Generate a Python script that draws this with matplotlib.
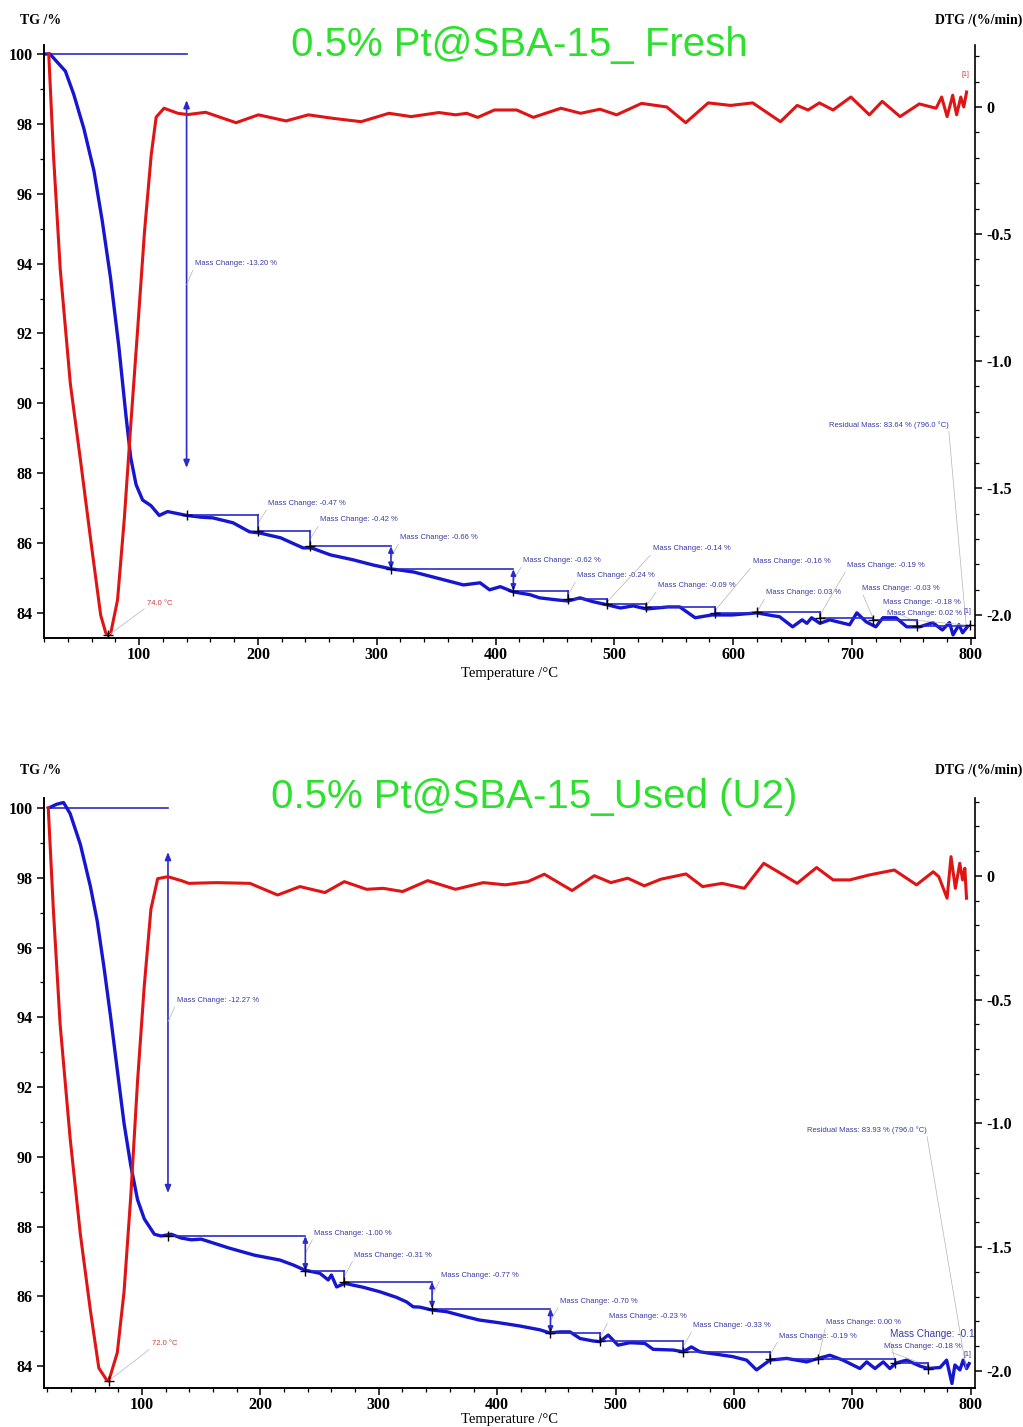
import numpy as np
import matplotlib.pyplot as plt
from matplotlib.ticker import MultipleLocator, FuncFormatter

plt.rcParams['font.family'] = ['Liberation Serif', 'DejaVu Serif']
plt.rcParams['font.weight'] = 'bold'
plt.rcParams['axes.unicode_minus'] = False

SANS = ['Liberation Sans', 'DejaVu Sans']
BLUE = '#1616d0'
RED = '#e01414'
STEP = '#2a2ac8'
NOTE = '#3a3aa6'
LEADER = '#b4b4b4'
GREEN = '#2ee02e'

# ---------------- fresh sample (top panel) ----------------
fresh_tg = [(22, 100.0), (25, 100.0), (38, 99.51), (45, 98.85), (53.6, 97.86), (62, 96.66),
            (69, 95.23), (76, 93.59), (83, 91.62), (89, 89.64), (93, 88.44), (97.5, 87.67),
            (103, 87.23), (110, 87.07), (117, 86.79), (124, 86.90), (140, 86.79), (152, 86.74),
            (162, 86.72), (179, 86.58), (193, 86.32), (201, 86.29), (219, 86.15), (238, 85.86),
            (245, 85.86), (261, 85.66), (280, 85.52), (297, 85.37), (312, 85.26), (331, 85.17),
            (347, 85.03), (373, 84.80), (387, 84.86), (395, 84.66), (404, 84.75), (415, 84.60),
            (429, 84.52), (437, 84.43), (452, 84.37), (461, 84.34), (471, 84.43), (482, 84.32),
            (494, 84.23), (505, 84.14), (516, 84.20), (527, 84.11), (545, 84.17), (555, 84.17),
            (568, 83.86), (582, 83.94), (599, 83.94), (620, 84.00), (633, 83.92), (639, 83.89),
            (650, 83.60), (658, 83.80), (662, 83.70), (666, 83.86), (673, 83.70), (681, 83.80),
            (698, 83.66), (704, 84.00), (712, 83.74), (720, 83.60), (726, 83.86), (737, 83.86),
            (746, 83.60), (757, 83.60), (768, 83.72), (776, 83.51), (782, 83.72), (785, 83.37),
            (790, 83.66), (793, 83.43), (797, 83.60)]
fresh_dtg = [(24, 0.21), (28, -0.19), (33.7, -0.64), (42.2, -1.09), (50.7, -1.39), (59.2, -1.70),
             (67.7, -2.00), (72, -2.07), (74, -2.08), (76.2, -2.07), (81.9, -1.94), (87.6, -1.62),
             (93.2, -1.24), (98.9, -0.87), (104.6, -0.49), (110.2, -0.19), (114.4, -0.04),
             (121, -0.005), (132.7, -0.025), (141, -0.03), (156, -0.021), (181.6, -0.062),
             (200.4, -0.031), (223.7, -0.055), (242.5, -0.031), (263.5, -0.045), (286.8, -0.058),
             (310.3, -0.025), (329, -0.038), (352.3, -0.022), (366.4, -0.031), (375.7, -0.025),
             (385, -0.041), (399, -0.012), (417.8, -0.012), (431.8, -0.041), (455, -0.005),
             (471.6, -0.025), (487.9, -0.009), (501.9, -0.031), (522.9, 0.014), (544, 0.0),
             (560, -0.062), (579, 0.016), (597.8, 0.006), (616.4, 0.016), (639.8, -0.058),
             (653.8, 0.006), (663, -0.012), (672.5, 0.016), (684, -0.012), (699, 0.039),
             (714.6, -0.031), (725.4, 0.022), (740.4, -0.038), (756.6, 0.012), (770.7, -0.005),
             (775.4, 0.039), (780, -0.038), (784.7, 0.046), (788, -0.031), (791.5, 0.039),
             (794, 0.0), (796.4, 0.059)]
fresh_total = -13.20
fresh_step_t = [140, 200, 244, 312, 415, 461, 494, 527, 585, 620, 673, 718, 755, 799]
fresh_steps = [-0.47, -0.42, -0.66, -0.62, -0.24, -0.14, -0.09, -0.16, 0.03, -0.19, -0.03, -0.18, 0.02]
fresh_peak_t = 74.0
fresh_residual = 83.64

# ---------------- used sample (bottom panel) ----------------
used_tg = [(21, 100.0), (28, 100.11), (33.8, 100.16), (39.4, 99.84), (48, 98.96), (56.5, 97.75),
           (62.2, 96.77), (67.9, 95.45), (73.5, 94.03), (79.2, 92.49), (84.9, 90.96), (90.6, 89.75),
           (96.3, 88.77), (102, 88.22), (110.5, 87.78), (116.2, 87.73), (124.7, 87.78),
           (133.3, 87.67), (141.8, 87.62), (150, 87.64), (174, 87.38), (195, 87.18),
           (216.5, 87.04), (227.7, 86.90), (237.6, 86.75), (250.3, 86.66), (257.3, 86.47),
           (260, 86.61), (264.4, 86.27), (271.4, 86.37), (286.8, 86.26), (301, 86.13),
           (315, 85.97), (323.5, 85.84), (329, 85.70), (334.7, 85.69), (344.6, 85.61),
           (357.3, 85.56), (374, 85.41), (385, 85.32), (402, 85.24), (419, 85.15), (436, 85.04),
           (444.5, 84.95), (453, 84.98), (461.5, 84.98), (470, 84.79), (481, 84.72),
           (486.7, 84.70), (493.7, 84.89), (502, 84.60), (512, 84.67), (524.7, 84.65),
           (531.7, 84.48), (548.6, 84.46), (557, 84.41), (564, 84.55), (571, 84.41), (585, 84.34),
           (599, 84.27), (610.6, 84.17), (619, 83.89), (624.6, 84.03), (630.3, 84.17),
           (644.4, 84.22), (661.3, 84.12), (671, 84.22), (681, 84.31), (692, 84.17),
           (706.3, 83.93), (712, 84.12), (719, 83.93), (726, 84.12), (731.6, 83.93), (737, 84.09),
           (745.7, 84.17), (757, 84.00), (764, 83.93), (774, 83.96), (779.5, 84.17), (784, 83.50),
           (786.5, 84.03), (790.7, 83.89), (793.5, 84.17), (796.4, 83.93), (798.5, 84.07)]
used_dtg = [(20.9, 0.275), (25.2, -0.135), (30.9, -0.598), (39.4, -1.061), (48, -1.447),
            (56.5, -1.756), (63.6, -1.988), (70, -2.035), (72, -2.04), (79.2, -1.926),
            (84.9, -1.68), (90.6, -1.293), (96.3, -0.829), (102, -0.443), (107.6, -0.134),
            (113.3, -0.011), (121.9, -0.003), (133.3, -0.019), (139.6, -0.03), (163, -0.027),
            (191.2, -0.03), (214.6, -0.077), (233.4, -0.043), (254.5, -0.067), (270.9, -0.023),
            (289.7, -0.054), (303.7, -0.05), (320.2, -0.063), (341.3, -0.019), (364.8, -0.054),
            (388.2, -0.027), (407, -0.036), (425.8, -0.023), (439.8, 0.007), (463.2, -0.059),
            (482, 0.001), (496, -0.027), (510.2, -0.009), (524.2, -0.04), (538.3, -0.013),
            (559.4, 0.008), (573.5, -0.043), (589.9, -0.03), (608.7, -0.05), (625.1, 0.051),
            (639.2, 0.011), (653.3, -0.03), (669.7, 0.034), (683.7, -0.016), (697.8, -0.016),
            (714.2, 0.004), (735.3, 0.024), (754.1, -0.036), (768.2, 0.017), (772.9, -0.003),
            (779.9, -0.09), (783.2, 0.078), (786.9, -0.05), (790.6, 0.051), (793, -0.016),
            (794.9, 0.031), (796.3, -0.09)]
used_total = -12.27
used_step_t = [122, 238, 271, 345, 445, 487, 557, 630, 671, 736, 764]
used_steps = [-1.00, -0.31, -0.77, -0.70, -0.23, -0.33, -0.19, 0.00, -0.10, -0.18]
used_peak_t = 72.0
used_residual = 83.93

# label layout (data coordinates)
fresh_label_xy = [(208.6, 87.12), (252.3, 86.66), (319.6, 86.15), (423, 85.49), (468.5, 85.06),
                  (532.5, 85.83), (536.7, 84.77), (616.6, 85.46), (627.5, 84.57), (695.7, 85.35),
                  (708.3, 84.69), (726, 84.29), (729.4, 83.97)]
used_label_xy = [(245.2, 87.81), (279, 87.18), (352.4, 86.61), (452.9, 85.86), (494.3, 85.41),
                 (565.2, 85.15), (637.8, 84.86), (677.5, 85.26), (731.6, 84.92), (726.5, 84.57)]


def draw_panel(rect, xlim, tg_lim, dtg_lim, tg_pts, dtg_pts, total, step_t, steps, label_xy,
               arrow_span, big_xy, peak_t, peak_xy, resid, resid_xy, title, title_xy,
               big_label_size=None, xlabelpad=1.5):
    ax = fig.add_axes(rect)
    ax2 = ax.twinx()
    t, tg = np.array(tg_pts).T
    td, dtg = np.array(dtg_pts).T

    ax.plot(t, tg, color=BLUE, lw=2.4, solid_joinstyle='round', zorder=3)
    ax2.plot(td, dtg, color=RED, lw=2.2, solid_joinstyle='round', zorder=2)

    # 100 % reference line and total mass loss arrow
    ax.plot([t[0], step_t[0]], [100, 100], color=STEP, lw=1.2)
    ax.annotate('', xy=(step_t[0], arrow_span[1]), xytext=(step_t[0], arrow_span[0]),
                arrowprops=dict(arrowstyle='<|-|>,head_length=0.45,head_width=0.18',
                                color=STEP, lw=1.2, shrinkA=0, shrinkB=0))
    ax.annotate(f'Mass Change: {total:.2f} %', xy=(step_t[0], big_xy[1] - 0.6), xytext=big_xy,
                ha='left', va='center', fontsize=5.5, color=NOTE, family=SANS, fontweight='normal',
                arrowprops=dict(arrowstyle='-', color=LEADER, lw=0.5, relpos=(0, 0.3),
                                shrinkA=0, shrinkB=0))

    # step analysis
    levels = (100 + total) + np.concatenate([[0], np.cumsum(steps)])
    for i, dv in enumerate(steps):
        x0, x1 = step_t[i], step_t[i + 1]
        ax.plot([x0, x1], [levels[i], levels[i]], color=STEP, lw=1.2, zorder=4)
        if abs(dv) >= 0.6:
            ax.annotate('', xy=(x1, levels[i + 1]), xytext=(x1, levels[i]),
                        arrowprops=dict(arrowstyle='<|-|>,head_length=0.35,head_width=0.15',
                                        color=STEP, lw=1.2, shrinkA=0, shrinkB=0), zorder=4)
        else:
            ax.plot([x1, x1], [levels[i], levels[i + 1]], color=STEP, lw=1.2, zorder=4)
        size = 5.5
        if big_label_size is not None and i == big_label_size[0]:
            size = big_label_size[1]
        ann = ax.annotate(f'Mass Change: {dv:.2f} %', xy=(x1, (levels[i] + levels[i + 1]) / 2),
                          xytext=label_xy[i], ha='left', va='center', fontsize=size, color=NOTE,
                          family=SANS, fontweight='normal',
                          arrowprops=dict(arrowstyle='-', color=LEADER, lw=0.5, relpos=(0, 0),
                                          shrinkA=0, shrinkB=0))
        ann.set_clip_on(True)
        ann.set_clip_box(ax.bbox)
    ax.plot(step_t, levels, linestyle='none', marker='+', color='k', ms=7, mew=1.0, zorder=5)

    # residual mass
    ax.annotate(f'Residual Mass: {resid:.2f} % (796.0 °C)', xy=(796, resid), xytext=resid_xy,
                ha='left', va='center', fontsize=5.5, color=NOTE, family=SANS, fontweight='normal',
                arrowprops=dict(arrowstyle='-', color=LEADER, lw=0.5, relpos=(1, 0),
                                shrinkA=0, shrinkB=0))
    ax.text(794, resid + 0.35, '[1]', fontsize=5, color=NOTE, family=SANS, fontweight='normal')

    # DTG peak
    pk = dtg.min()
    ax2.plot([peak_t], [pk], marker='+', color='k', ms=7, mew=1.0, zorder=5)
    ax2.annotate(f'{peak_t:.1f} °C', xy=(peak_t, pk), xytext=peak_xy, ha='left', va='center',
                 fontsize=5.5, color='#d03a3a', family=SANS, fontweight='normal',
                 arrowprops=dict(arrowstyle='-', color=LEADER, lw=0.5, relpos=(0, 0),
                                 shrinkA=0, shrinkB=0))

    # axes styling
    ax.set_xlim(*xlim)
    ax.set_ylim(*tg_lim)
    ax2.set_ylim(*dtg_lim)
    for a in (ax, ax2):
        a.spines['top'].set_visible(False)
        for s in a.spines.values():
            s.set_linewidth(1.2)
    ax.spines['right'].set_visible(False)
    ax.xaxis.set_major_locator(MultipleLocator(100))
    ax.xaxis.set_minor_locator(MultipleLocator(20))
    ax.yaxis.set_major_locator(MultipleLocator(2))
    ax.yaxis.set_minor_locator(MultipleLocator(1))
    ax2.yaxis.set_major_locator(MultipleLocator(0.5))
    ax2.yaxis.set_minor_locator(MultipleLocator(0.1))
    ax2.yaxis.set_major_formatter(FuncFormatter(lambda v, p: '0' if abs(v) < 1e-9 else f'{v:.1f}'))
    ax.xaxis.set_major_formatter(FuncFormatter(lambda v, p: f'{v:.0f}' if v >= 100 else ''))
    for a in (ax, ax2):
        a.tick_params(which='major', direction='out', length=5, width=1.1, labelsize=11.5, pad=3)
        a.tick_params(which='minor', direction='out', length=3, width=0.9)
    ax.tick_params(axis='x', which='major', pad=1.5)
    ax.tick_params(axis='y', which='both', left=True, right=False)
    ax2.tick_params(axis='y', which='both', left=False, right=True)
    ax.set_xlabel('Temperature /°C', fontsize=10.5, labelpad=xlabelpad)

    fig.text(title_xy[0], title_xy[1], title, ha='center', va='center', fontsize=29,
             color=GREEN, family=SANS, fontweight='normal')
    return ax, ax2


fig = plt.figure(figsize=(10.23, 14.27), dpi=100)

draw_panel([0.043, 0.5529, 0.910, 0.4156], (20, 803.4), (83.28, 100.26), (-2.09, 0.244),
           fresh_tg, fresh_dtg, fresh_total, fresh_step_t, fresh_steps, fresh_label_xy,
           (98.68, 88.15), (147.1, 93.99), fresh_peak_t, (106.8, -1.953), fresh_residual,
           (680.5, 89.38), '0.5% Pt@SBA-15_ Fresh', (0.508, 0.9685), xlabelpad=3)
draw_panel([0.043, 0.0273, 0.910, 0.4135], (17.3, 803.4), (83.37, 100.29), (-2.069, 0.315),
           used_tg, used_dtg, used_total, used_step_t, used_steps, used_label_xy,
           (98.74, 88.96), (129.5, 94.47), used_peak_t, (108.4, -1.891), used_residual,
           (661.5, 90.77), '0.5% Pt@SBA-15_Used (U2)', (0.522, 0.4415), big_label_size=(8, 7.2),
           xlabelpad=0)

fig.text(20 / 1023, 1 - 20 / 1427, 'TG /%', fontsize=10, ha='left', va='center')
fig.text(1 - 1 / 1023, 1 - 20 / 1427, 'DTG /(%/min)', fontsize=10, ha='right', va='center')
fig.text(20 / 1023, 1 - 770 / 1427, 'TG /%', fontsize=10, ha='left', va='center')
fig.text(1 - 1 / 1023, 1 - 770 / 1427, 'DTG /(%/min)', fontsize=10, ha='right', va='center')
fig.text(962 / 1023, 1 - 75 / 1427, '[1]', fontsize=5, color='#d03a3a', family=SANS,
         fontweight='normal', ha='left', va='center')

fig.savefig('out.png', dpi=100)
